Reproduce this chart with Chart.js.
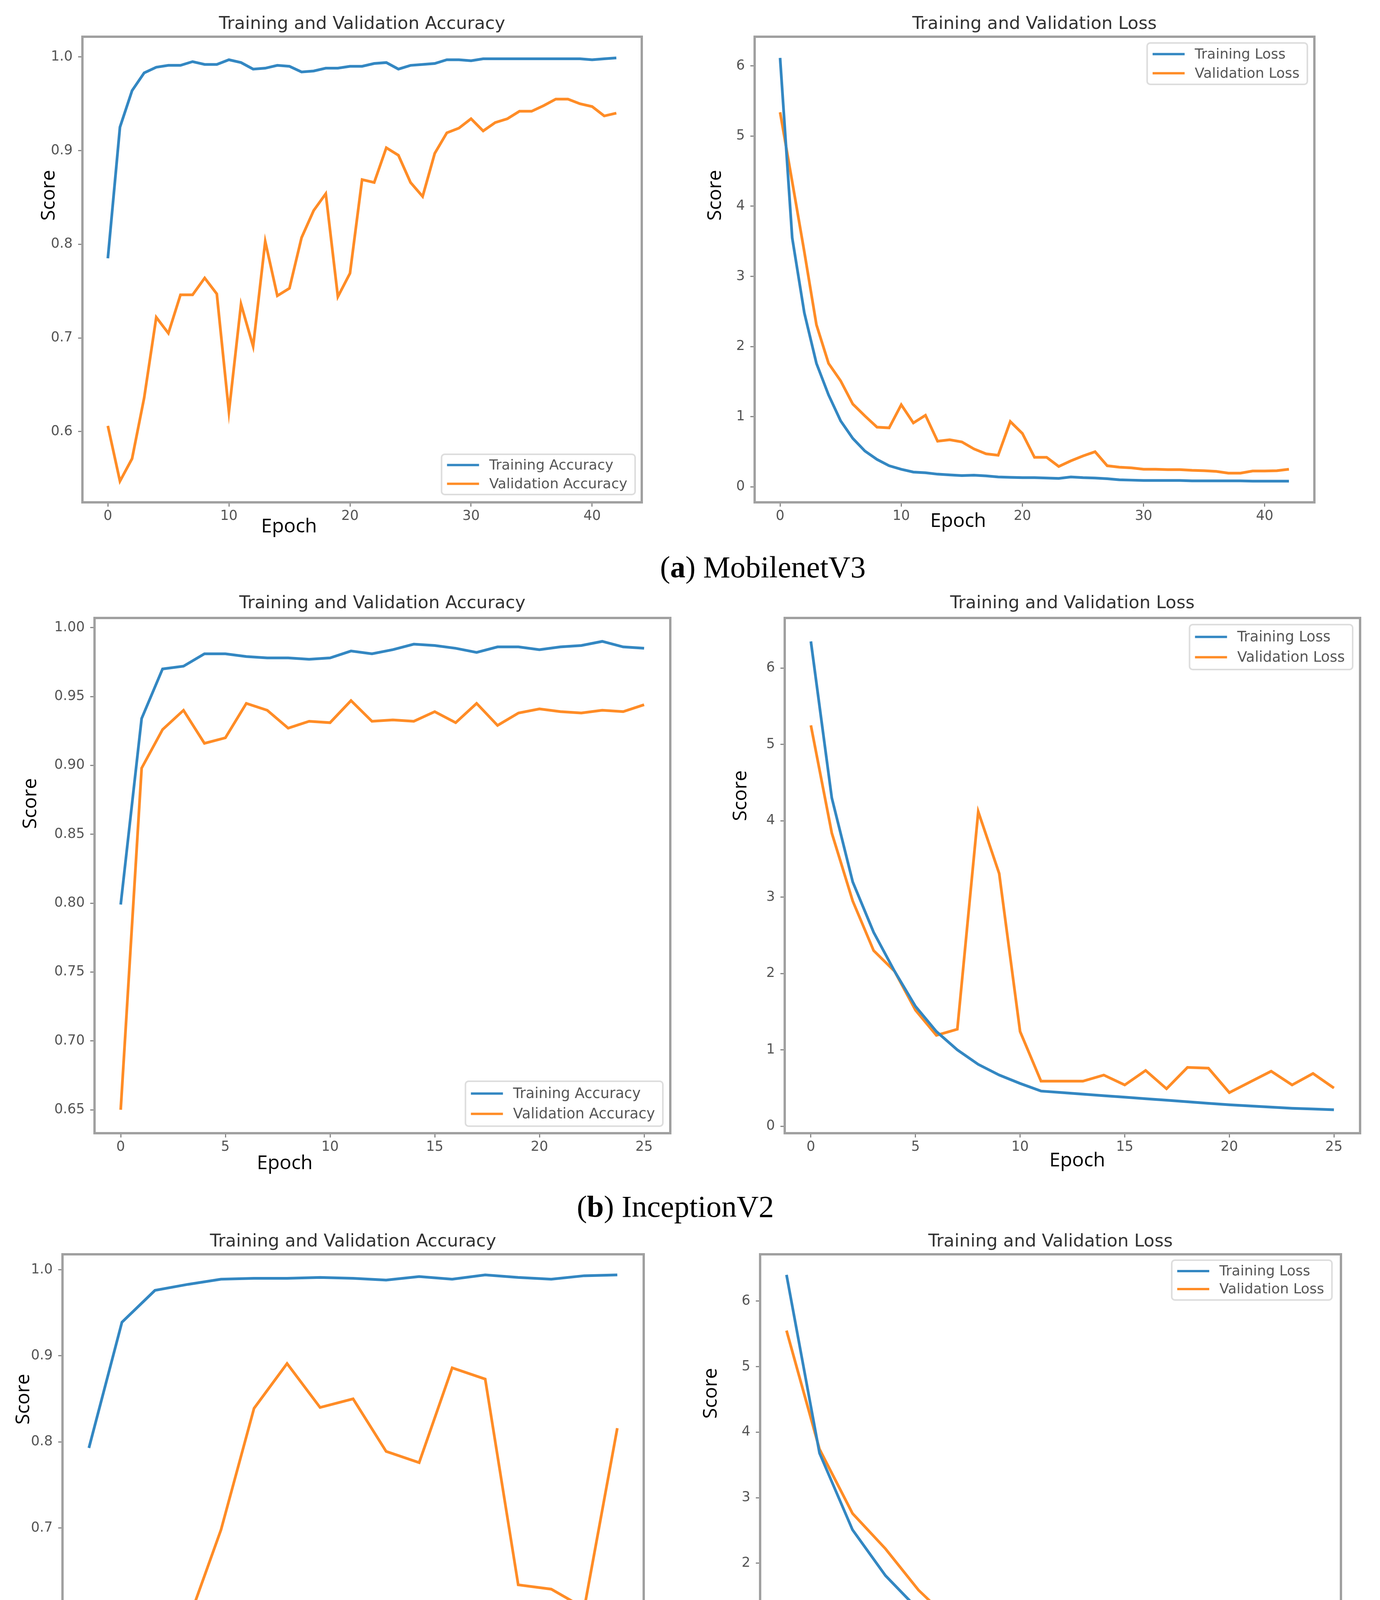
<!DOCTYPE html>
<html><head><meta charset="utf-8">
<script src="https://cdn.jsdelivr.net/npm/chart.js@4.4.1/dist/chart.umd.min.js"></script>
<style>
html,body{margin:0;padding:0;background:#fff;}
#page{position:relative;width:3533px;height:4660px;background:#fff;overflow:hidden;}
.panel{position:absolute;}
.axlab{position:absolute;font-family:"Open Sans",sans-serif;font-size:50px;color:#000;line-height:1;white-space:nowrap;transform:translate(-50%,-50%);}
.axlab.rot{transform:translate(-50%,-50%) rotate(-90deg);}
.cap{position:absolute;font-family:"Liberation Serif",serif;font-size:78px;line-height:1;color:#000;white-space:nowrap;transform:translateX(-50%);}
</style></head><body><div id="page"></div>
<script>
// ---------- DATA ----------
const epochsA = [0,1,2,3,4,5,6,7,8,9,10,11,12,13,14,15,16,17,18,19,20,21,22,23,24,25,26,27,28,29,30,31,32,33,34,35,36,37,38,39,40,41,42];
const epochsB = [0,1,2,3,4,5,6,7,8,9,10,11,12,13,14,15,16,17,18,19,20,21,22,23,24,25];
const epochsC = [0,1,2,3,4,5,6,7,8,9,10,11,12,13,14,15,16];

// (a) MobilenetV3
const a_trainAcc = [0.785,0.925,0.964,0.983,0.989,0.991,0.991,0.995,0.992,0.992,0.997,0.994,0.987,0.988,0.991,0.990,0.984,0.985,0.988,0.988,0.990,0.990,0.993,0.994,0.987,0.991,0.992,0.993,0.997,0.997,0.996,0.998,0.998,0.998,0.998,0.998,0.998,0.998,0.998,0.998,0.997,0.998,0.999];
const a_valAcc = [0.606,0.547,0.571,0.636,0.722,0.705,0.746,0.746,0.764,0.747,0.621,0.736,0.691,0.803,0.745,0.753,0.807,0.836,0.854,0.744,0.769,0.869,0.866,0.903,0.895,0.866,0.851,0.897,0.919,0.924,0.934,0.921,0.930,0.934,0.942,0.942,0.948,0.955,0.955,0.950,0.947,0.937,0.940];
const a_trainLoss = [6.115,3.55,2.48,1.76,1.31,0.94,0.69,0.51,0.39,0.30,0.25,0.21,0.20,0.18,0.17,0.16,0.165,0.155,0.14,0.135,0.13,0.13,0.125,0.12,0.14,0.13,0.125,0.115,0.10,0.095,0.09,0.09,0.09,0.09,0.085,0.085,0.085,0.085,0.085,0.08,0.08,0.08,0.08];
const a_valLoss = [5.34,4.35,3.35,2.31,1.76,1.51,1.18,1.01,0.85,0.84,1.17,0.91,1.02,0.65,0.67,0.64,0.54,0.47,0.45,0.93,0.76,0.42,0.42,0.29,0.37,0.44,0.50,0.30,0.28,0.27,0.25,0.25,0.245,0.245,0.235,0.23,0.22,0.195,0.195,0.225,0.225,0.23,0.25];

// (b) InceptionV2
const b_trainAcc = [0.799,0.934,0.970,0.972,0.981,0.981,0.979,0.978,0.978,0.977,0.978,0.983,0.981,0.984,0.988,0.987,0.985,0.982,0.986,0.986,0.984,0.986,0.987,0.990,0.986,0.985];
const b_valAcc = [0.650,0.898,0.926,0.940,0.916,0.920,0.945,0.940,0.927,0.932,0.931,0.947,0.932,0.933,0.932,0.939,0.931,0.945,0.929,0.938,0.941,0.939,0.938,0.940,0.939,0.944];
const b_trainLoss = [6.35,4.30,3.20,2.54,2.03,1.57,1.24,1.00,0.81,0.67,0.56,0.46,0.44,0.42,0.40,0.38,0.36,0.34,0.32,0.30,0.28,0.265,0.25,0.235,0.225,0.215];
const b_valLoss = [5.25,3.84,2.95,2.30,2.03,1.52,1.19,1.27,4.12,3.31,1.24,0.59,0.59,0.59,0.67,0.54,0.73,0.49,0.77,0.76,0.44,0.58,0.72,0.54,0.69,0.50];

// (c) EfficientnetB3
const c_trainAcc = [0.793,0.939,0.976,0.983,0.989,0.990,0.990,0.991,0.990,0.988,0.992,0.989,0.994,0.991,0.989,0.993,0.994];
const c_valAcc = [0.519,0.516,0.540,0.591,0.698,0.839,0.891,0.840,0.850,0.789,0.776,0.886,0.873,0.634,0.629,0.607,0.816];
const c_trainLoss = [6.40,3.68,2.51,1.81,1.29,0.92,0.67,0.48,0.36,0.27,0.22,0.18,0.16,0.15,0.14,0.13,0.12];
const c_valLoss = [5.55,3.74,2.76,2.22,1.59,1.11,0.76,0.73,0.60,0.68,0.63,0.39,0.42,1.03,1.08,1.15,0.51];

// tick labels
const xTicksA = [0,10,20,30,40];
const xTicksB = [0,5,10,15,20,25];
const xTicksC = [0,2,4,6,8,10,12,14,16];
const yTicksAccA = [0.6,0.7,0.8,0.9,1.0];
const yTicksAccB = [0.65,0.70,0.75,0.80,0.85,0.90,0.95,1.00];
const yTicksAccC = [0.5,0.6,0.7,0.8,0.9,1.0];
const yTicksLoss = [0,1,2,3,4,5,6];

const accTitle = 'Training and Validation Accuracy';
const lossTitle = 'Training and Validation Loss';
const accLabels = ['Training Accuracy','Validation Accuracy'];
const lossLabels = ['Training Loss','Validation Loss'];
const captions = [['a','MobilenetV3'],['b','InceptionV2'],['c','EfficientnetB3']];

// ---------- LAYOUT / STYLE ----------
const BLUE = '#3387c2', ORANGE = '#ff8c26';
const panels = [
  {box:[211,94,1643,1286], title:accTitle, labels:accLabels, vals:[a_trainAcc,a_valAcc], ep:epochsA, xt:xTicksA, yt:yTicksAccA, dec:1, tg:31.5,
   lg:{corner:'br',gx:17,gy:20,h:103,pitch:48,fs:36}, score:[121,500], epoch:[740,1344]},
  {box:[1932,94,3365,1286], title:lossTitle, labels:lossLabels, vals:[a_trainLoss,a_valLoss], ep:epochsA, xt:xTicksA, yt:yTicksLoss, dec:0, tg:31.5,
   lg:{corner:'tr',gx:18,gy:16,h:106,pitch:49,fs:36}, score:[1827,500], epoch:[2453,1330]},
  {box:[242,1582,1716,2901], title:accTitle, labels:accLabels, vals:[b_trainAcc,b_valAcc], ep:epochsB, xt:xTicksB, yt:yTicksAccB, dec:2, tg:37,
   lg:{corner:'br',gx:19,gy:18,h:115,pitch:52,fs:37}, score:[74,2057], epoch:[729,2974]},
  {box:[2009,1582,3482,2901], title:lossTitle, labels:lossLabels, vals:[b_trainLoss,b_valLoss], ep:epochsB, xt:xTicksB, yt:yTicksLoss, dec:0, tg:37,
   lg:{corner:'tr',gx:19,gy:17,h:115,pitch:52,fs:37}, score:[1892,2037], epoch:[2758,2967]},
  {box:[160,3211,1648,4370], title:accTitle, labels:accLabels, vals:[c_trainAcc,c_valAcc], ep:epochsC, xt:xTicksC, yt:yTicksAccC, dec:1, tg:32,
   lg:{corner:'br',gx:22,gy:17,h:100,pitch:46,fs:36}, score:[56,3582], epoch:[811,4470]},
  {box:[1946,3211,3433,4370], title:lossTitle, labels:lossLabels, vals:[c_trainLoss,c_valLoss], ep:epochsC, xt:xTicksC, yt:yTicksLoss, dec:0, tg:32,
   lg:{corner:'tr',gx:23,gy:15,h:102,pitch:46,fs:36}, score:[1816,3567], epoch:[2583,4456]}
];
const capPos = [[1953,1478],[1729,3115],[1728,4606]];

const framePlugin = {
  id:'mplFrame',
  afterDatasetsDraw(chart){
    const {ctx, chartArea:a} = chart;
    ctx.save();
    ctx.strokeStyle = '#a0a0a0';
    ctx.lineWidth = 6;
    ctx.strokeRect(a.left, a.top, a.right-a.left, a.bottom-a.top);
    ctx.restore();
  }
};

const legendPlugin = {
  id:'mplLegend',
  afterDraw(chart, args, o){
    const {ctx, chartArea:a} = chart;
    const padL = 14, hl = 82, hg = 26, padR = 20;
    ctx.save();
    ctx.font = o.fs + 'px "DejaVu Sans"';
    const ds = chart.data.datasets;
    const tw = Math.max(...ds.map(d => ctx.measureText(d.label).width));
    const w = padL + hl + hg + tw + padR, h = o.h;
    const x = a.right - o.gx - w;
    const y = o.corner === 'br' ? a.bottom - o.gy - h : a.top + o.gy;
    ctx.beginPath();
    if (ctx.roundRect) ctx.roundRect(x, y, w, h, 8); else ctx.rect(x, y, w, h);
    ctx.fillStyle = 'rgba(255,255,255,0.85)';
    ctx.fill();
    ctx.strokeStyle = '#dddddd';
    ctx.lineWidth = 4;
    ctx.stroke();
    ds.forEach((d, k) => {
      const cy = y + (h - o.pitch)/2 + k*o.pitch;
      ctx.strokeStyle = d.borderColor;
      ctx.lineWidth = 6;
      ctx.beginPath(); ctx.moveTo(x+padL, cy); ctx.lineTo(x+padL+hl, cy); ctx.stroke();
      ctx.fillStyle = '#555';
      ctx.textBaseline = 'middle';
      ctx.textAlign = 'left';
      ctx.fillText(d.label, x+padL+hl+hg, cy+2);
    });
    ctx.restore();
  }
};

const page = document.getElementById('page');
const SL = 220, SR = 40, ST = 100, SB = 90;
const TFS = 45, TLH = TFS*1.2;

panels.forEach(p => {
  const [L,T,R,B] = p.box;
  const div = document.createElement('div');
  div.className = 'panel';
  div.style.left = (L-SL)+'px'; div.style.top = (T-ST)+'px';
  div.style.width = (R-L+SL+SR)+'px'; div.style.height = (B-T+ST+SB)+'px';
  const cv = document.createElement('canvas');
  div.appendChild(cv); page.appendChild(div);

  const allY = p.vals.flat();
  const ymin = Math.min(...allY), ymax = Math.max(...allY), yr = ymax-ymin;
  const xmin = p.ep[0], xmax = p.ep[p.ep.length-1], xr = xmax-xmin;
  const tb = p.tg - TLH/2;
  const pt = ST - TLH - tb;

  new Chart(cv, {
    type:'line',
    data:{
      datasets: p.vals.map((vals,k) => ({
        label: p.labels[k],
        data: vals.map((v,i) => ({x:p.ep[i], y:v})),
        borderColor: k ? ORANGE : BLUE,
        backgroundColor: k ? ORANGE : BLUE,
        borderWidth: 7, pointRadius: 0, tension: 0, fill: false
      }))
    },
    options:{
      responsive:true, maintainAspectRatio:false, animation:false, events:[],
      layout:{padding:{left:0, right:SR, top:pt, bottom:0}},
      plugins:{
        legend:{display:false}, tooltip:{enabled:false},
        title:{display:true, text:p.title, fullSize:false, color:'#333',
               font:{family:'DejaVu Sans', size:TFS, lineHeight:1.2, weight:'normal'},
               padding:{top:0, bottom:tb}},
        mplLegend: p.lg
      },
      scales:{
        x:{type:'linear', min:xmin-0.05*xr, max:xmax+0.05*xr,
           afterFit:s => { s.height = SB; },
           afterBuildTicks:s => { s.ticks = p.xt.map(v => ({value:v})); },
           ticks:{autoSkip:false, maxRotation:0, minRotation:0, padding:4, color:'#555',
                  font:{family:'DejaVu Sans', size:35}, callback:v => String(v)},
           grid:{display:true, drawOnChartArea:false, drawTicks:true, tickLength:11, tickWidth:3, tickColor:'#888'},
           border:{display:false}},
        y:{type:'linear', min:ymin-0.05*yr, max:ymax+0.05*yr,
           afterFit:s => { s.width = SL; },
           afterBuildTicks:s => { s.ticks = p.yt.map(v => ({value:v})); },
           ticks:{autoSkip:false, padding:14, color:'#555',
                  font:{family:'DejaVu Sans', size:35}, callback:v => Number(v).toFixed(p.dec)},
           grid:{display:true, drawOnChartArea:false, drawTicks:true, tickLength:11, tickWidth:3, tickColor:'#888'},
           border:{display:false}}
      }
    },
    plugins:[framePlugin, legendPlugin]
  });

  const sc = document.createElement('div');
  sc.className = 'axlab rot'; sc.textContent = 'Score';
  sc.style.left = p.score[0]+'px'; sc.style.top = p.score[1]+'px';
  page.appendChild(sc);
  const ep = document.createElement('div');
  ep.className = 'axlab'; ep.textContent = 'Epoch';
  ep.style.left = p.epoch[0]+'px'; ep.style.top = p.epoch[1]+'px';
  page.appendChild(ep);
});

captions.forEach((c,i) => {
  const d = document.createElement('div');
  d.className = 'cap';
  d.innerHTML = '(<b>' + c[0] + '</b>) ' + c[1];
  d.style.left = capPos[i][0]+'px';
  d.style.top = (capPos[i][1]-65)+'px';
  page.appendChild(d);
});
</script></body></html>
